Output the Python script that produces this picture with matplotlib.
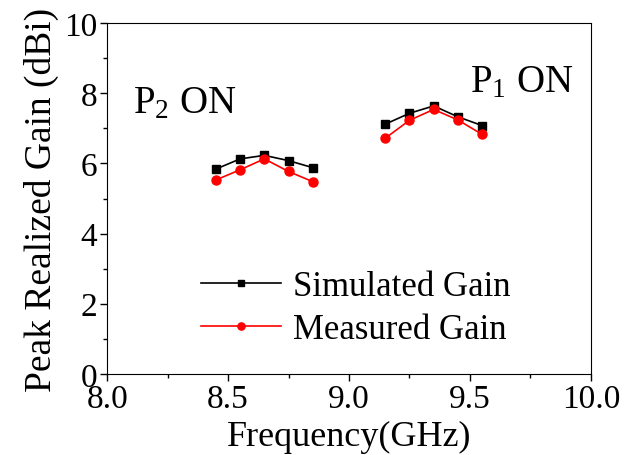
import matplotlib.pyplot as plt
import numpy as np

plt.rcParams["font.family"] = "Liberation Serif"
plt.rcParams["mathtext.fontset"] = "custom"
plt.rcParams["mathtext.rm"] = "Liberation Serif"
plt.rcParams["mathtext.it"] = "Liberation Serif:italic"
plt.rcParams["font.size"] = 25

# data
freq_p2 = [8.45, 8.55, 8.65, 8.75, 8.85]
sim_p2 = [5.84, 6.13, 6.23, 6.08, 5.88]
meas_p2 = [5.53, 5.82, 6.13, 5.77, 5.48]

freq_p1 = [9.15, 9.25, 9.35, 9.45, 9.55]
sim_p1 = [7.12, 7.43, 7.64, 7.33, 7.08]
meas_p1 = [6.72, 7.23, 7.54, 7.24, 6.83]

fig = plt.figure(figsize=(6.34, 4.56), dpi=100)
ax = fig.add_axes([0.169, 0.178, 0.763, 0.769])

ax.plot(freq_p2, sim_p2, color='black', marker='s', ms=6, lw=1.2, label='Simulated Gain')
ax.plot(freq_p2, meas_p2, color='red', marker='o', ms=6.5, lw=1.2, label='Measured Gain')
ax.plot(freq_p1, sim_p1, color='black', marker='s', ms=6, lw=1.2)
ax.plot(freq_p1, meas_p1, color='red', marker='o', ms=6.5, lw=1.2)

ax.text(8.105, 7.46, r'P$_2$ ON', fontsize=28)
ax.text(9.50, 8.06, r'P$_1$ ON', fontsize=28)

ax.set_xlim(8.0, 10.0)
ax.set_ylim(0, 10)
ax.set_xticks(np.arange(8.0, 10.01, 0.5))
ax.set_xticks(np.arange(8.0, 10.01, 0.25), minor=True)
ax.set_yticks(np.arange(0, 10.1, 2))
ax.set_yticks(np.arange(0, 10.1, 1), minor=True)
ax.set_xticklabels(['8.0', '8.5', '9.0', '9.5', '10.0'])
ax.tick_params(which='major', length=5, width=1, labelsize=24, pad=2)
ax.tick_params(which='minor', length=3, width=1)
ax.set_xlabel('Frequency(GHz)', fontsize=26, labelpad=4)
ax.set_ylabel('Peak Realized Gain (dBi)', fontsize=27, labelpad=4)

leg = ax.legend(loc='lower left', bbox_to_anchor=(0.13, -0.01), frameon=False,
                fontsize=25, handlelength=2.3, handletextpad=0.35, labelspacing=0.3,
                markerscale=0.8)

fig.savefig('out.png', dpi=100)
